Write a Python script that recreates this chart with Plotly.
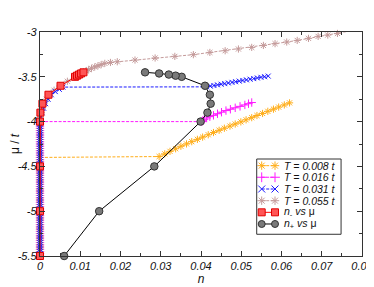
import plotly.graph_objects as go

# ---------------- data ----------------
mu_grid_low = [-5.5, -5.475, -5.45, -5.425, -5.4, -5.375, -5.35, -5.325, -5.3, -5.275,
               -5.25, -5.225, -5.2, -5.175, -5.15, -5.125, -5.1, -5.075, -5.05, -5.025,
               -5.0, -4.975, -4.95, -4.925, -4.9, -4.875, -4.85, -4.825, -4.8, -4.775,
               -4.75, -4.725, -4.7, -4.675, -4.65, -4.625, -4.6, -4.575, -4.55, -4.525,
               -4.5, -4.475, -4.45, -4.425, -4.4]
mu_grid_mid = [-4.375, -4.35, -4.325, -4.3, -4.275, -4.25, -4.225, -4.2, -4.175, -4.15,
               -4.125, -4.1, -4.075, -4.05, -4.025]

# T = 0.008 t  (n = 0 below the jump)
n_T008_branch = [0.0296, 0.0310, 0.0323, 0.0337, 0.0350, 0.0364, 0.0377, 0.0391, 0.0404,
                 0.0418, 0.0431, 0.0445, 0.0458, 0.0472, 0.0485, 0.0499, 0.0512, 0.0526,
                 0.0539, 0.0553, 0.0566, 0.0580, 0.0593, 0.0607, 0.0620]
mu_T008_branch = [-4.39, -4.36, -4.332, -4.303, -4.275, -4.249, -4.224, -4.198, -4.173,
                  -4.147, -4.122, -4.097, -4.074, -4.050, -4.027, -4.003, -3.980, -3.956,
                  -3.932, -3.909, -3.885, -3.861, -3.838, -3.814, -3.791]

# T = 0.016 t
n_T016_branch = [0.0, 0.0402, 0.0404, 0.0408, 0.0414, 0.0422, 0.0431, 0.0441, 0.0451,
                 0.0462, 0.0473, 0.0485, 0.0497, 0.0509, 0.0518, 0.0526]
mu_T016_branch = [-4.0, -4.0, -3.99, -3.975, -3.96, -3.945, -3.93, -3.912, -3.895,
                  -3.877, -3.862, -3.846, -3.83, -3.814, -3.80, -3.787]

# T = 0.031 t
n_T031_branch = [0.0001, 0.0002, 0.0005, 0.0009, 0.0014, 0.0020, 0.0028, 0.0038, 0.0048,
                 0.0057, 0.0414, 0.0423, 0.0432, 0.0441, 0.0450, 0.0459, 0.0468, 0.0477,
                 0.0486, 0.0495, 0.0504, 0.0513, 0.0522, 0.0531, 0.0540, 0.0549, 0.0558, 0.0567]
mu_T031_branch = [-4.0, -3.95, -3.9, -3.85, -3.8, -3.75, -3.7, -3.665, -3.64,
                  -3.615, -3.612, -3.604, -3.597, -3.590, -3.583, -3.576, -3.569, -3.562,
                  -3.555, -3.548, -3.541, -3.534, -3.527, -3.520, -3.513, -3.506, -3.499, -3.492]

# T = 0.055 t
n_T055_branch = [0.0, 0.0001, 0.0003, 0.0006, 0.0010, 0.0016, 0.0024, 0.0035, 0.0050,
                 0.0068, 0.0087, 0.0097, 0.0107, 0.0114, 0.0121, 0.0128, 0.0136, 0.0144,
                 0.0152, 0.0161, 0.0175, 0.0192, 0.0236, 0.0286, 0.0335, 0.0381, 0.0422,
                 0.0460, 0.0493, 0.0526, 0.0555, 0.0584, 0.0613, 0.0639, 0.0667, 0.0691,
                 0.0715, 0.0739, 0.0762]
mu_T055_branch = [-4.0, -3.95, -3.9, -3.85, -3.8, -3.75, -3.7, -3.65, -3.6,
                  -3.55, -3.5, -3.475, -3.45, -3.435, -3.42, -3.405, -3.39, -3.377,
                  -3.364, -3.35, -3.34, -3.332, -3.313, -3.29, -3.272, -3.253, -3.228,
                  -3.209, -3.19, -3.172, -3.15, -3.13, -3.112, -3.094, -3.071, -3.049,
                  -3.034, -3.016, -2.995]

# n_- vs mu and n_+ vs mu
mu_pm = [-5.5, -5.0, -4.5, -4.0, -3.9, -3.8, -3.7, -3.6, -3.5, -3.4875, -3.475, -3.4625, -3.45]
n_minus = [0.0, 0.0, 0.0, 0.0, 0.0001, 0.0006, 0.0021, 0.0051, 0.0087, 0.0092, 0.0097, 0.0102, 0.0108]
n_plus = [0.0060, 0.0147, 0.0284, 0.0399, 0.0416, 0.0424, 0.0422, 0.0410, 0.0352, 0.0337,
          0.0320, 0.0296, 0.0261]

x_ticks = [0, 0.01, 0.02, 0.03, 0.04, 0.05, 0.06, 0.07, 0.08]
x_ticktext = ["0", "0.01", "0.02", "0.03", "0.04", "0.05", "0.06", "0.07", "0.08"]
y_ticks = [-5.5, -5, -4.5, -4, -3.5, -3]
y_ticktext = ["-5.5", "-5", "-4.5", "-4", "-3.5", "-3"]

legend_labels = ["<i>T = 0.008 t</i>", "<i>T = 0.016 t</i>", "<i>T = 0.031 t</i>",
                 "<i>T = 0.055 t</i>",
                 "<i>n</i><sub>-</sub><i> vs </i>μ",
                 "<i>n</i><sub>+</sub><i> vs </i>μ"]

# ---------------- styles ----------------
C_ORANGE = "#ffae1a"
C_MAGENTA = "#ff1aff"
C_BLUE = "#1a1aff"
C_BROWN = "#c49a9a"
C_RED = "#ff5555"
C_GRAY = "#7a7a7a"
DASH = "3px,1.5px"

zeros_low = [0.0] * len(mu_grid_low)
zeros_mid = [0.0] * len(mu_grid_mid)

series = [
    dict(x=zeros_low + n_T008_branch, y=mu_grid_low + mu_T008_branch, color=C_ORANGE,
         symbol="asterisk-open", size=6),
    dict(x=zeros_low + zeros_mid + n_T016_branch, y=mu_grid_low + mu_grid_mid + mu_T016_branch,
         color=C_MAGENTA, symbol="cross-thin-open", size=6),
    dict(x=zeros_low + zeros_mid + n_T055_branch, y=mu_grid_low + mu_grid_mid + mu_T055_branch,
         color=C_BROWN, symbol="asterisk-open", size=6),
    dict(x=zeros_low + zeros_mid + n_T031_branch, y=mu_grid_low + mu_grid_mid + mu_T031_branch,
         color=C_BLUE, symbol="x-thin-open", size=5),
]

fig = go.Figure()
for s in series:
    fig.add_trace(go.Scatter(
        x=s["x"], y=s["y"], mode="lines+markers", cliponaxis=False, showlegend=False,
        line=dict(color=s["color"], width=1, dash=DASH),
        marker=dict(symbol=s["symbol"], size=s["size"], color=s["color"],
                    line=dict(color=s["color"], width=1)),
    ))

fig.add_trace(go.Scatter(
    x=n_minus, y=mu_pm, mode="lines+markers", cliponaxis=False, showlegend=False,
    line=dict(color="#ff0000", width=1),
    marker=dict(symbol="square", size=7, color=C_RED, line=dict(color="#e00000", width=1)),
))
fig.add_trace(go.Scatter(
    x=n_plus, y=mu_pm, mode="lines+markers", cliponaxis=False, showlegend=False,
    line=dict(color="#000000", width=1),
    marker=dict(symbol="circle", size=7.5, color=C_GRAY, line=dict(color="#333333", width=1)),
))

# ---------------- custom legend (plot-fraction coordinates) ----------------
leg_styles = [
    (C_ORANGE, "asterisk-open", DASH, C_ORANGE),
    (C_MAGENTA, "cross-thin-open", DASH, C_MAGENTA),
    (C_BLUE, "x-thin-open", DASH, C_BLUE),
    (C_BROWN, "asterisk-open", DASH, C_BROWN),
    (C_RED, "square", "solid", "#ff0000"),
    (C_GRAY, "circle", "solid", "#000000"),
]
row_y = [0.4033, 0.3515, 0.2991, 0.2469, 0.1950, 0.1429]
for (col, sym, dash, lcol), yy, lab in zip(leg_styles, row_y, legend_labels):
    edge = "#333333" if sym == "circle" else ("#e00000" if sym == "square" else col)
    fig.add_trace(go.Scatter(
        x=[0.6885, 0.7298], y=[yy, yy], xaxis="x2", yaxis="y2", mode="lines+markers",
        showlegend=False, hoverinfo="skip", cliponaxis=False,
        line=dict(color=lcol, width=1, dash=dash),
        marker=dict(symbol=sym, size=7, color=col, line=dict(color=edge, width=1)),
    ))
    fig.add_annotation(x=0.7557, y=yy, xref="paper", yref="paper", text=lab, showarrow=False,
                       xanchor="left", yanchor="middle", borderpad=0,
                       font=dict(family="Liberation Sans", size=10.5, color="#111111"))

fig.add_shape(type="rect", xref="paper", yref="paper", x0=0.673, x1=0.935, y0=0.097, y1=0.433,
              line=dict(color="#333333", width=1), fillcolor="rgba(255,255,255,0)", layer="above")

axis_common = dict(
    ticks="inside", ticklen=5, tickwidth=1, tickcolor="#333333",
    showline=True, linecolor="#333333", linewidth=1.3, mirror="allticks",
    showgrid=False, zeroline=False, automargin=False,
    tickfont=dict(family="Liberation Sans", size=11, color="#111111", style="italic"),
)

# the page body adds an 8px offset, so the figure is sized to the visible area
fig.update_layout(
    width=366, height=279,
    margin=dict(l=32, r=12, t=24, b=31, autoexpand=False),
    paper_bgcolor="white", plot_bgcolor="white",
    font=dict(family="Liberation Sans", size=11, color="#111111"),
    xaxis=dict(range=[0, 0.08], tickvals=x_ticks, ticktext=x_ticktext,
               minor=dict(ticks="inside", ticklen=3, dtick=0.005, tick0=0, tickcolor="#333333"),
               title=dict(text="n", font=dict(family="Liberation Sans", size=12, style="italic"),
                          standoff=2),
               **axis_common),
    yaxis=dict(range=[-5.5, -3], tickvals=y_ticks, ticktext=y_ticktext,
               minor=dict(ticks="inside", ticklen=3, dtick=0.25, tick0=-3, tickcolor="#333333"),
               title=dict(text="μ / <i>t</i>", font=dict(family="Liberation Sans", size=12),
                          standoff=4),
               **axis_common),
    xaxis2=dict(range=[0, 1], overlaying="x", anchor="y", visible=False, automargin=False),
    yaxis2=dict(range=[0, 1], overlaying="y", anchor="x", visible=False, automargin=False),
)

fig.write_html("out.html")
